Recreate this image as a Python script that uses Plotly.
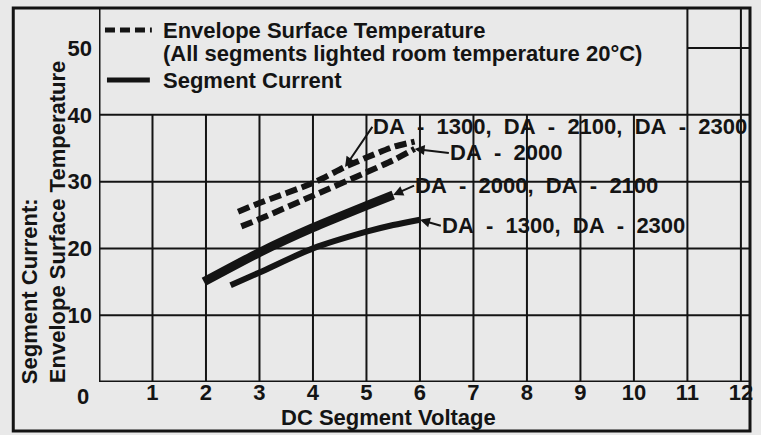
import plotly.graph_objects as go

# ---------------- data ----------------
env_upper_x = [2.6, 3.0, 4.0, 4.6, 5.0, 5.5, 5.9]
env_upper_y = [25.5, 26.8, 29.8, 32.2, 33.6, 35.2, 36.0]
env_lower_x = [2.66, 3.0, 4.0, 5.0, 5.5, 5.9]
env_lower_y = [23.3, 24.4, 27.9, 31.4, 33.2, 34.9]
cur_high_x = [1.96, 3.0, 4.0, 5.0, 5.5]
cur_high_y = [15.0, 19.4, 23.1, 26.4, 28.0]
cur_low_x = [2.46, 3.0, 4.0, 5.0, 5.5, 6.0]
cur_low_y = [14.5, 16.4, 20.0, 22.5, 23.5, 24.3]

label_env_upper = "DA - 1300, DA - 2100, DA - 2300"
label_env_lower = "DA - 2000"
label_cur_high = "DA - 2000, DA - 2100"
label_cur_low = "DA - 1300, DA - 2300"

legend_env = "Envelope Surface Temperature"
legend_env_note = "(All segments lighted room temperature 20°C)"
legend_cur = "Segment Current"

x_ticks = [1, 2, 3, 4, 5, 6, 7, 8, 9, 10, 11, 12]
y_ticks = [10, 20, 30, 40, 50]
x_title = "DC Segment Voltage"
y_title_outer = "Segment Current:"
y_title_inner = "Envelope Surface Temperature"

# ---------------- geometry / style ----------------
W, H = 761, 435
L, R, T, B = 99, 9, 8, 53
PW, PH = W - L - R, H - T - B
X_MAX, Y_MAX = 12.17, 56
INK = "#141414"
BG = "#e9e9e9"
FONT = "Liberation Sans, Arial, sans-serif"


def pxx(px):
    return (px - L) / PW


def pxy(py):
    return (H - B - py) / PH


def spaced(s):
    return s.replace(" ", "\u00a0\u00a0")


dash_style = "12px,5px"

fig = go.Figure()
fig.add_trace(go.Scatter(x=env_upper_x, y=env_upper_y, mode="lines",
                         line=dict(color=INK, width=6, dash=dash_style, shape="spline", smoothing=0.6)))
fig.add_trace(go.Scatter(x=env_lower_x, y=env_lower_y, mode="lines",
                         line=dict(color=INK, width=6, dash=dash_style, shape="spline", smoothing=0.6)))
fig.add_trace(go.Scatter(x=cur_high_x, y=cur_high_y, mode="lines",
                         line=dict(color=INK, width=9, shape="spline", smoothing=0.6)))
fig.add_trace(go.Scatter(x=cur_low_x, y=cur_low_y, mode="lines",
                         line=dict(color=INK, width=6, shape="spline", smoothing=0.8)))

shapes = []
grid = dict(color=INK, width=2)
# vertical grid lines (with short tick below axis)
for xv in x_ticks:
    top = 40 if xv <= 10 else Y_MAX
    shapes.append(dict(type="line", xref="x", yref="y", x0=xv, x1=xv, y0=-0.9, y1=top,
                       line=grid, layer="below"))
# horizontal grid lines
for yv in y_ticks:
    x_start = 0 if yv <= 40 else 11
    shapes.append(dict(type="line", xref="x", yref="y", x0=x_start, x1=X_MAX, y0=yv, y1=yv,
                       line=grid, layer="below"))
# axes
shapes.append(dict(type="line", xref="x", yref="y", x0=-0.1, x1=X_MAX, y0=0, y1=0,
                   line=dict(color=INK, width=3)))
shapes.append(dict(type="line", xref="x", yref="y", x0=0, x1=0, y0=-0.3, y1=Y_MAX,
                   line=dict(color=INK, width=3)))
# outer frame
shapes.append(dict(type="rect", xref="paper", yref="paper", x0=pxx(13), x1=pxx(752),
                   y0=pxy(431), y1=pxy(8), line=dict(color=INK, width=3)))
# legend samples
shapes.append(dict(type="line", xref="paper", yref="paper", x0=pxx(105), x1=pxx(152),
                   y0=pxy(30), y1=pxy(30), line=dict(color=INK, width=5, dash="10px,5px")))
shapes.append(dict(type="line", xref="paper", yref="paper", x0=pxx(107), x1=pxx(150),
                   y0=pxy(80), y1=pxy(80), line=dict(color=INK, width=5)))

tf = dict(family=FONT, size=22, color=INK, weight="bold")
annotations = []
# legend text
for txt, py in [(legend_env, 30), (legend_env_note, 53), (legend_cur, 80)]:
    annotations.append(dict(text=txt, xref="paper", yref="paper", x=pxx(161), y=pxy(py),
                            xanchor="left", yanchor="middle", showarrow=False, font=tf))

# curve labels with leaders
lab_font = dict(family=FONT, size=22, color=INK, weight="bold")
labels = [
    (label_env_upper, env_upper_x[3], env_upper_y[3], 5.11, 38.2),
    (label_env_lower, env_lower_x[-1], env_lower_y[-1], 6.54, 34.3),
    (label_cur_high, cur_high_x[-1], cur_high_y[-1], 5.89, 29.4),
    (label_cur_low, cur_low_x[-1], cur_low_y[-1], 6.39, 23.4),
]
for txt, px_, py_, ax_, ay_ in labels:
    annotations.append(dict(text=spaced(txt), x=px_, y=py_, xref="x", yref="y",
                            ax=ax_, ay=ay_, axref="x", ayref="y",
                            xanchor="left", yanchor="middle",
                            showarrow=True, arrowhead=2, arrowsize=1, arrowwidth=2,
                            arrowcolor=INK, standoff=0, borderpad=0, font=lab_font))

# axis titles
annotations.append(dict(text=x_title, xref="paper", yref="paper", x=pxx(389), y=pxy(417),
                        xanchor="center", yanchor="middle", showarrow=False, font=tf))
annotations.append(dict(text=y_title_inner, xref="paper", yref="paper", x=pxx(57), y=pxy(222),
                        xanchor="center", yanchor="middle", textangle=-90, showarrow=False, font=tf))
annotations.append(dict(text=y_title_outer, xref="paper", yref="paper", x=pxx(29), y=pxy(291),
                        xanchor="center", yanchor="middle", textangle=-90, showarrow=False, font=tf))
# origin label
annotations.append(dict(text="0", xref="paper", yref="paper", x=pxx(91), y=pxy(396),
                        xanchor="right", yanchor="middle", showarrow=False, font=tf))

fig.update_layout(
    width=W, height=H,
    margin=dict(l=L, r=R, t=T, b=B),
    paper_bgcolor=BG, plot_bgcolor=BG,
    showlegend=False,
    shapes=shapes, annotations=annotations,
    xaxis=dict(range=[0, X_MAX], tickvals=x_ticks, ticktext=[str(v) for v in x_ticks],
               showgrid=False, zeroline=False, showline=False, ticks="",
               tickfont=tf, ticklabelstandoff=-5, fixedrange=True),
    yaxis=dict(range=[0, Y_MAX], tickvals=y_ticks, ticktext=[str(v) for v in y_ticks],
               showgrid=False, zeroline=False, showline=False, ticks="",
               tickfont=tf, ticklabelstandoff=6, fixedrange=True),
)

fig.write_html("out.html", config={"displayModeBar": False},
               post_script="document.body.style.margin='0';document.body.style.background='%s';" % BG)
